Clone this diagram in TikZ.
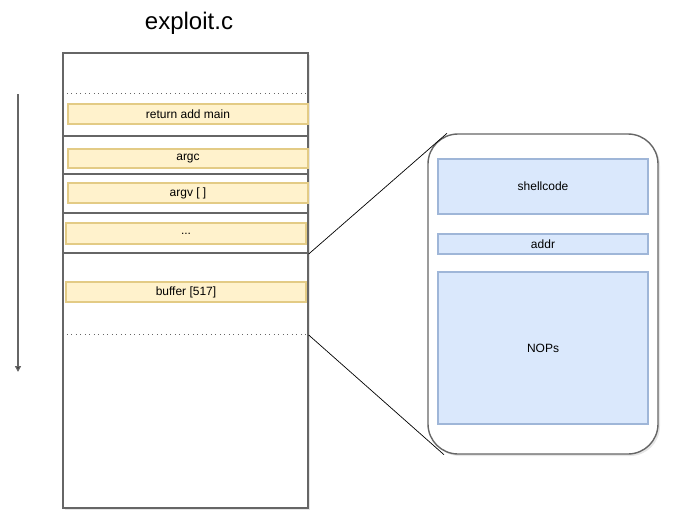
\documentclass[tikz,border=0pt]{standalone}
\usepackage{fontspec}
\setmainfont{Liberation Sans}
\usetikzlibrary{arrows.meta,shadows}
\definecolor{fieldfill}{HTML}{FFF2CC}
\definecolor{fieldline}{HTML}{E3CB85}
\definecolor{partfill}{HTML}{DAE8FC}
\definecolor{partline}{HTML}{9FB6D8}
\definecolor{frameline}{HTML}{666666}

\tikzset{
  frame/.style={draw=frameline, line width=1.4pt, fill=white, inner sep=0pt,
    drop shadow={shadow xshift=2pt, shadow yshift=-2pt, opacity=0.2}},
  field/.style={draw=fieldline, line width=1.2pt, fill=fieldfill, inner sep=0pt,
    minimum width=240, minimum height=20, font=\fontsize{12}{14}\selectfont},
  part/.style={draw=partline, line width=1.2pt, fill=partfill, inner sep=0pt,
    minimum width=210, font=\fontsize{12}{14}\selectfont},
  sep/.style={draw=frameline, line width=1.4pt},
  dots/.style={draw=frameline, line width=0.8pt, dash pattern=on 1pt off 3.5pt},
}

\begin{document}
\begin{tikzpicture}[x=1pt, y=-1pt]
  \useasboundingbox (0,0) rectangle (674,525);

  % Define nodes
  \node[font=\fontsize{24}{28}\selectfont] (title) at (189,23) {exploit.c};
  \node[frame, minimum width=245, minimum height=455] (stack) at (185.5,280.5) {};
  \node[field] (ret) at (188,114) {return add main};
  \node[field, minimum height=19] (argc) at (188,158.5) {argc};
  \node[field] (argv) at (188,193) {argv [ ]};
  \node[field, minimum height=21] (more) at (186,233.5) {...};
  \node[field] (buffer) at (186,292) {buffer [517]};

  \node[frame, rounded corners=30, minimum width=230, minimum height=320] (zoom) at (543,294) {};
  \node[part, minimum height=55] (shellcode) at (543,186.5) {shellcode};
  \node[part, minimum height=20] (addr) at (543,244) {addr};
  \node[part, minimum height=152] (nops) at (543,348) {NOPs};

  % Separators
  \draw[dots] (stack.west |- 0,93) -- (stack.east |- 0,93);
  \draw[sep] (stack.west |- 0,136) -- (stack.east |- 0,136);
  \draw[sep] (stack.west |- 0,174) -- (stack.east |- 0,174);
  \draw[sep] (stack.west |- 0,213) -- (stack.east |- 0,213);
  \draw[sep] (stack.west |- 0,253) -- (stack.east |- 0,253);
  \draw[dots] (stack.west |- 0,334) -- (stack.east |- 0,334);

  % Connect the nodes
  \coordinate (top) at (stack.east |- 0,254);
  \coordinate (bot) at (stack.east |- 0,335);
  \draw[line width=0.7pt] (top) -- (zoom.north west -| 447,0);
  \draw[line width=0.7pt] (bot) -- (zoom.south west -| 444,0);

  % Growth arrow
  \coordinate (grow) at (18,94);
  \coordinate (growend) at (18,372);
  \draw[draw=frameline, line width=1.4pt, -{Triangle[length=6pt, width=6pt, fill=black]}] (grow) -- (growend);

\end{tikzpicture}
\end{document}
